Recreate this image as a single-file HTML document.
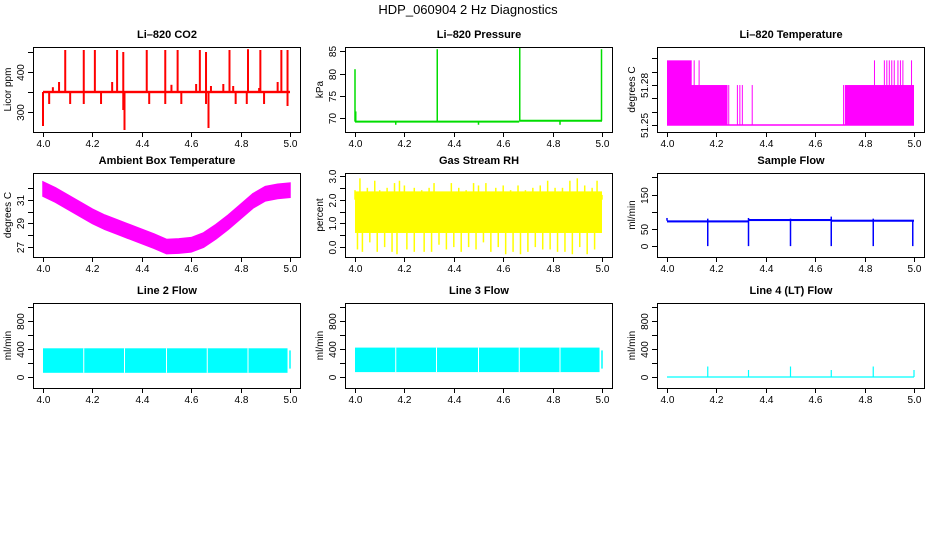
<!DOCTYPE html>
<html><head><meta charset="utf-8">
<style>
html,body{margin:0;padding:0;background:#fff}
svg{display:block;font-family:"Liberation Sans",Arial,sans-serif}
</style></head>
<body>
<svg id="c" width="936" height="540" viewBox="0 0 936 540" xmlns="http://www.w3.org/2000/svg">
<rect width="936" height="540" fill="#fff"/>
<text x="468" y="14" text-anchor="middle" font-size="13" fill="#000">HDP_060904 2 Hz Diagnostics</text>
</svg>
<script>
// ---- data arrays ----
const xTicks = [4.0, 4.2, 4.4, 4.6, 4.8, 5.0];
const xTickLabels = ["4.0", "4.2", "4.4", "4.6", "4.8", "5.0"];

// CO2
const co2Base = 350;
const co2UpT = [4.09, 4.165, 4.21, 4.30, 4.325, 4.42, 4.495, 4.545, 4.635, 4.66, 4.755, 4.83, 4.88, 4.965, 4.99, 4.065, 4.28, 4.62, 4.73, 4.77, 4.875, 4.95, 4.04, 4.52, 4.68];
const co2UpV = [455, 455, 455, 455, 450, 455, 455, 455, 455, 450, 455, 457, 455, 455, 455, 375, 375, 370, 370, 365, 360, 375, 362, 368, 365];
const co2DnT = [4.0, 4.025, 4.11, 4.165, 4.235, 4.325, 4.33, 4.43, 4.495, 4.56, 4.66, 4.67, 4.78, 4.825, 4.895, 4.99];
const co2DnV = [265, 320, 320, 320, 320, 305, 255, 320, 320, 320, 320, 260, 320, 320, 320, 315];

// Pressure
const presSegT = [4.0, 4.665, 5.0];
const presSegV = [69.2, 69.4];
const presSpikeT = [4.0, 4.333, 4.667, 4.998, 4.165, 4.5, 4.83, 4.003];
const presSpikeV = [81, 85.5, 86, 85.5, 68.5, 68.5, 68.5, 71.5];

// Li-820 temperature
const tempBase = 51.25;
const tempDenseStart = [4.0, 4.0, 4.72];
const tempDenseEnd = [4.10, 4.245, 5.0];
const tempDenseTop = [51.2985, 51.28, 51.28];
const tempLineT = [4.11, 4.13, 4.25, 4.285, 4.295, 4.305, 4.345, 4.715, 4.84, 4.88, 4.89, 4.90, 4.91, 4.92, 4.935, 4.945, 4.955, 4.99];
const tempLineV = [51.2985, 51.2985, 51.28, 51.28, 51.28, 51.28, 51.28, 51.28, 51.2985, 51.2985, 51.2985, 51.2985, 51.2985, 51.2985, 51.2985, 51.2985, 51.2985, 51.2985];

// Ambient box temperature (band centre, every 0.05)
const ambT = [4.0, 4.05, 4.1, 4.15, 4.2, 4.25, 4.3, 4.35, 4.4, 4.45, 4.5, 4.55, 4.6, 4.65, 4.7, 4.75, 4.8, 4.85, 4.9, 4.95, 5.0];
const ambV = [31.9, 31.4, 30.8, 30.2, 29.6, 29.1, 28.7, 28.3, 27.9, 27.5, 27.05, 27.1, 27.2, 27.6, 28.3, 29.1, 30.0, 30.9, 31.5, 31.7, 31.8];
const ambHalf = 0.6;

// Gas stream RH
const rhLo = 0.6, rhHi = 2.0;
const rhUpT = [4.0, 4.02, 4.05, 4.08, 4.1, 4.13, 4.16, 4.18, 4.2, 4.24, 4.27, 4.3, 4.32, 4.36, 4.39, 4.42, 4.45, 4.48, 4.5, 4.53, 4.57, 4.6, 4.63, 4.66, 4.69, 4.72, 4.75, 4.78, 4.81, 4.84, 4.87, 4.9, 4.93, 4.96, 4.98, 5.0];
const rhUpV = [2.4, 2.9, 2.5, 2.8, 2.4, 2.5, 2.7, 2.8, 2.6, 2.5, 2.4, 2.5, 2.7, 2.3, 2.7, 2.5, 2.4, 2.7, 2.6, 2.7, 2.5, 2.6, 2.4, 2.6, 2.4, 2.5, 2.6, 2.8, 2.5, 2.5, 2.8, 2.9, 2.6, 2.5, 2.8, 2.2];
const rhDnT = [4.01, 4.03, 4.06, 4.09, 4.12, 4.15, 4.17, 4.21, 4.24, 4.28, 4.31, 4.34, 4.37, 4.4, 4.43, 4.46, 4.49, 4.52, 4.55, 4.58, 4.61, 4.64, 4.67, 4.7, 4.73, 4.76, 4.79, 4.82, 4.85, 4.88, 4.91, 4.94, 4.97, 4.99];
const rhDnV = [-0.1, -0.2, 0.2, -0.2, 0.0, -0.2, -0.3, -0.1, -0.2, -0.2, -0.2, 0.1, -0.1, 0.0, -0.2, 0.0, -0.1, 0.2, -0.2, 0.0, -0.3, -0.2, -0.3, -0.2, 0.0, -0.1, -0.1, -0.2, -0.2, -0.3, 0.0, -0.3, -0.1, 0.8];

// Sample flow
const sfSegT = [4.0, 4.33, 4.665, 5.0];
const sfSegV = [72, 76, 74];
const sfDropT = [4.165, 4.33, 4.5, 4.665, 4.835, 4.995];
const sfDropV = [0, 0, 0, 0, 0, 0];
const sfUpT = [4.0, 4.165, 4.33, 4.5, 4.665, 4.835];
const sfUpV = [82, 80, 82, 80, 86, 80];

// Line flows
const lineGapT = [4.165, 4.33, 4.5, 4.665, 4.83];
const l2Lo = 60, l2Hi = 410, l2End = 4.99;
const l3Lo = 70, l3Hi = 420, l3End = 4.99;
const l4Base = 0;
const l4SpikeT = [4.165, 4.33, 4.5, 4.665, 4.835, 5.0];
const l4SpikeV = [150, 100, 150, 100, 150, 100];

// ---- drawing ----
const svg = document.getElementById('c');
const NS = 'http://www.w3.org/2000/svg';
function el(tag, attrs, parent) {
  const e = document.createElementNS(NS, tag);
  for (const k in attrs) e.setAttribute(k, attrs[k]);
  (parent || svg).appendChild(e);
  return e;
}
const colX = [0, 312, 624];
const rowTop = [47, 173, 303];
const rowBot = [132, 257, 388];

function panel(col, row, title, ylab, ymin, ymax, yTicks, yLabels, name) {
  const cs = colX[col], top = rowTop[row], bot = rowBot[row];
  const left = cs + 33, right = cs + 300;
  const g = el('g', {});
  
  
  const X = t => cs + 43 + (t - 4) * 247;
  const Y = v => bot - (v - ymin) / (ymax - ymin) * (bot - top);
  const t = el('text', {x: cs + 167, y: top - 9, 'text-anchor': 'middle', 'font-size': 11, 'font-weight': 'bold'}, g);
  t.textContent = title;
  
  
  const yl = el('text', {transform: `translate(${cs + 11},${(top + bot) / 2}) rotate(-90)`, 'text-anchor': 'middle', 'font-size': 10}, g);
  yl.textContent = ylab;
  
  
  const plot = el('g', {}, g);
  
  
  const ax = el('g', {stroke: '#000', 'stroke-width': 1, fill: 'none'}, g);
  
  
  el('rect', {x: left + 0.5, y: top + 0.5, width: right - left, height: bot - top}, ax);
  xTicks.forEach((v, i) => {
    const x = Math.round(X(v)) + 0.5;
    el('line', {x1: x, x2: x, y1: bot, y2: bot + 5}, ax);
    const lt = el('text', {x: x, y: bot + 15, 'text-anchor': 'middle', 'font-size': 10, fill: '#000', stroke: 'none'}, g);
    lt.textContent = xTickLabels[i];
    
    
  });
  yTicks.forEach((v, i) => {
    const y = Math.round(Y(v)) + 0.5;
    el('line', {x1: left - 5, x2: left, y1: y, y2: y}, ax);
    if (yLabels[i]) {
      const lt = el('text', {transform: `translate(${cs + 24},${y}) rotate(-90)`, 'text-anchor': 'middle', 'font-size': 10, fill: '#000', stroke: 'none'}, g);
      lt.textContent = yLabels[i];
      
      
    }
  });
  return {X, Y, plot};
}
function vline(p, t, v1, v2, color, w) {
  const x = p.X(t);
  el('line', {x1: x, x2: x, y1: p.Y(v1), y2: p.Y(v2), stroke: color, 'stroke-width': w || 1.5}, p.plot);
}
function hseg(p, t1, t2, v, color, w) {
  el('line', {x1: p.X(t1), x2: p.X(t2), y1: p.Y(v), y2: p.Y(v), stroke: color, 'stroke-width': w || 1.5}, p.plot);
}
function band(p, t1, t2, lo, hi, color) {
  el('rect', {x: p.X(t1), y: p.Y(hi), width: p.X(t2) - p.X(t1), height: p.Y(lo) - p.Y(hi), fill: color}, p.plot);
}

// 1 CO2
let p = panel(0, 0, 'Li\u2013820 CO2', 'Licor ppm', 250, 462.5, [300, 350, 400, 450], ['300', '', '400', ''], 'co2');
band(p, 4.0, 5.0, co2Base - 3, co2Base + 3, 'red');
co2UpT.forEach((t, i) => vline(p, t, co2Base, co2UpV[i], 'red', 2));
co2DnT.forEach((t, i) => vline(p, t, co2Base, co2DnV[i], 'red', 2));

// 2 Pressure
p = panel(1, 0, 'Li\u2013820 Pressure', 'kPa', 66.87, 86, [70, 75, 80, 85], ['70', '75', '80', '85'], 'pressure');
presSegV.forEach((v, i) => hseg(p, presSegT[i], presSegT[i + 1], v, '#00dd00', 2));
presSpikeT.forEach((t, i) => vline(p, t, presSegV[t >= 4.665 ? 1 : 0], presSpikeV[i], '#00dd00', 1.5));

// 3 Temperature
p = panel(2, 0, 'Li\u2013820 Temperature', 'degrees C', 51.2448, 51.3085, [51.25, 51.26, 51.27, 51.28, 51.29, 51.30], ['51.25', '', '', '51.28', '', ''], 'li820-temp');
hseg(p, 4.0, 5.0, tempBase, '#ff00ff', 1.5);
tempDenseStart.forEach((s, i) => band(p, s, tempDenseEnd[i], tempBase, tempDenseTop[i], '#ff00ff'));
tempLineT.forEach((t, i) => vline(p, t, tempBase, tempLineV[i], '#ff00ff', 1));

// 4 Ambient
p = panel(0, 1, 'Ambient Box Temperature', 'degrees C', 26.17, 33.25, [27, 28, 29, 30, 31, 32], ['27', '', '29', '', '31', ''], 'ambient-temp');
{
  let d = '';
  ambT.forEach((t, i) => { d += (i ? 'L' : 'M') + p.X(t) + ',' + p.Y(ambV[i] + ambHalf); });
  for (let i = ambT.length - 1; i >= 0; i--) d += 'L' + p.X(ambT[i]) + ',' + p.Y(ambV[i] - ambHalf);
  el('path', {d: d + 'Z', fill: '#ff00ff', stroke: '#ff00ff', 'stroke-width': 1.5}, p.plot);
}

// 5 RH
p = panel(1, 1, 'Gas Stream RH', 'percent', -0.417, 3.125, [0, 0.5, 1, 1.5, 2, 2.5, 3], ['0.0', '', '1.0', '', '2.0', '', '3.0'], 'rh');
band(p, 4.0, 5.0, rhLo, rhHi, '#ffff00');
band(p, 4.0, 5.0, rhLo, 2.35, '#ffff00');
rhUpT.forEach((t, i) => vline(p, t, rhHi, rhUpV[i], '#ffff00', 1.5));
rhDnT.forEach((t, i) => vline(p, t, rhLo, rhDnV[i], '#ffff00', 1.5));

// 6 Sample flow
p = panel(2, 1, 'Sample Flow', 'ml/min', -31.7, 213, [0, 50, 100, 150, 200], ['0', '50', '', '150', ''], 'sample-flow');
sfSegV.forEach((v, i) => band(p, sfSegT[i], sfSegT[i + 1], v - 3, v + 3, '#0000ff'));
sfDropT.forEach((t, i) => vline(p, t, 74, sfDropV[i], '#0000ff', 1.5));
sfUpT.forEach((t, i) => vline(p, t, 74, sfUpV[i], '#0000ff', 1.5));

// 7-9 Line flows
const lt = [0, 200, 400, 600, 800, 1000], ll = ['0', '', '400', '', '800', ''];
function lineBand(p, lo, hi, end) {
  band(p, 4.0, end, lo, hi, '#00ffff');
  lineGapT.forEach(t => el('line', {x1: p.X(t), x2: p.X(t), y1: p.Y(hi), y2: p.Y(lo), stroke: '#fff', 'stroke-width': 1}, p.plot));
  vline(p, 5.0, 120, 380, '#00ffff', 1.5);
}
p = panel(0, 2, 'Line 2 Flow', 'ml/min', -157, 1057, lt, ll, 'line2-flow');
lineBand(p, l2Lo, l2Hi, l2End);
p = panel(1, 2, 'Line 3 Flow', 'ml/min', -157, 1057, lt, ll, 'line3-flow');
lineBand(p, l3Lo, l3Hi, l3End);
p = panel(2, 2, 'Line 4 (LT) Flow', 'ml/min', -157, 1057, lt, ll, 'line4-flow');
hseg(p, 4.0, 5.0, l4Base, '#00ffff', 1.2);
l4SpikeT.forEach((t, i) => vline(p, t, l4Base, l4SpikeV[i], '#00ffff', 1.2));
</script>
</body></html>
